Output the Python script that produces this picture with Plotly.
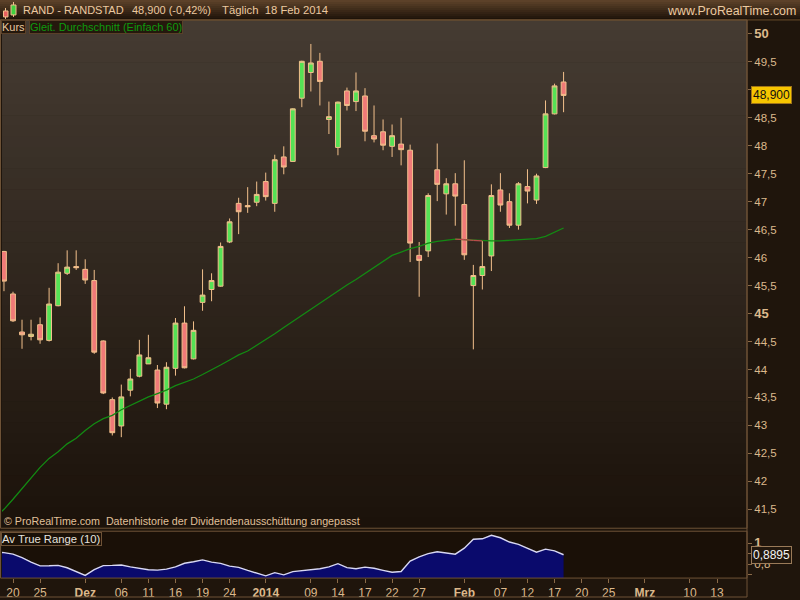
import plotly.graph_objects as go
import pandas as pd

# ---------------- data ----------------
dates = [
    "2013-11-19", "2013-11-20", "2013-11-21", "2013-11-22", "2013-11-25", "2013-11-26", "2013-11-27",
    "2013-11-28", "2013-11-29", "2013-12-02", "2013-12-03", "2013-12-04", "2013-12-05", "2013-12-06",
    "2013-12-09", "2013-12-10", "2013-12-11", "2013-12-12", "2013-12-13", "2013-12-16", "2013-12-17",
    "2013-12-18", "2013-12-19", "2013-12-20", "2013-12-23", "2013-12-24", "2013-12-27", "2013-12-30",
    "2013-12-31", "2014-01-02", "2014-01-03", "2014-01-06", "2014-01-07", "2014-01-08", "2014-01-09",
    "2014-01-10", "2014-01-13", "2014-01-14", "2014-01-15", "2014-01-16", "2014-01-17", "2014-01-20",
    "2014-01-21", "2014-01-22", "2014-01-23", "2014-01-24", "2014-01-27", "2014-01-28", "2014-01-29",
    "2014-01-30", "2014-01-31", "2014-02-03", "2014-02-04", "2014-02-05", "2014-02-06", "2014-02-07",
    "2014-02-10", "2014-02-11", "2014-02-12", "2014-02-13", "2014-02-14", "2014-02-17", "2014-02-18",
]
open_ = [46.11, 45.35, 44.67, 44.59, 44.80, 44.52, 45.14, 45.72, 45.84, 45.79, 45.59, 44.51, 43.46, 42.99,
         43.63, 43.88, 44.10, 43.99, 43.38, 44.02, 44.83, 44.19, 45.20, 45.43, 45.49, 46.28, 46.97, 46.93,
         46.99, 47.36, 46.97, 47.80, 47.72, 48.85, 49.31, 49.51, 48.47, 47.97, 48.98, 48.79, 48.89, 48.18,
         48.25, 47.99, 48.03, 47.92, 46.04, 46.12, 47.57, 47.14, 47.32, 46.95, 45.50, 45.68, 46.03, 47.21,
         47.00, 46.58, 47.27, 47.03, 47.61, 48.57, 49.14]
high = [46.12, 45.39, 44.89, 44.89, 44.93, 45.46, 45.90, 46.13, 46.13, 45.97, 45.78, 44.52, 43.50, 43.73,
        44.01, 44.53, 44.62, 44.08, 44.13, 44.92, 45.13, 44.86, 45.79, 45.72, 46.27, 46.70, 47.07, 47.26,
        47.36, 47.52, 47.84, 47.99, 48.67, 49.52, 49.82, 49.66, 48.79, 48.79, 49.04, 49.31, 49.03, 48.72,
        48.47, 48.38, 48.50, 48.02, 46.28, 47.15, 48.04, 47.42, 47.51, 47.74, 45.87, 46.31, 47.31, 47.51,
        47.15, 47.35, 47.58, 47.50, 48.81, 49.11, 49.32]
low = [45.40, 44.85, 44.37, 44.52, 44.46, 44.50, 45.13, 45.69, 45.78, 45.53, 44.28, 43.56, 42.82, 42.79,
       43.52, 43.86, 44.10, 43.31, 43.29, 43.89, 44.02, 44.18, 45.05, 45.22, 45.48, 46.26, 46.42, 46.80,
       46.92, 47.02, 46.82, 47.49, 47.71, 48.69, 48.97, 48.72, 48.21, 47.83, 48.63, 48.62, 48.08, 48.06,
       47.92, 47.80, 47.65, 45.92, 45.30, 46.01, 47.01, 46.77, 46.57, 45.96, 44.36, 45.43, 45.76, 46.82,
       46.53, 46.50, 46.97, 46.96, 47.60, 48.56, 48.60]
close = [45.58, 44.87, 44.62, 44.63, 44.53, 45.17, 45.74, 45.83, 45.82, 45.60, 44.31, 43.58, 42.87, 43.51,
         43.83, 44.26, 44.21, 43.40, 44.04, 44.83, 44.03, 44.70, 45.33, 45.59, 46.20, 46.64, 46.82, 46.91,
         47.13, 47.09, 47.75, 47.62, 48.66, 49.51, 49.48, 49.15, 48.52, 48.78, 48.72, 48.98, 48.26, 48.12,
         48.01, 48.18, 47.93, 46.26, 45.95, 47.11, 47.31, 47.32, 47.10, 46.05, 45.68, 45.84, 47.11, 46.94,
         46.58, 47.32, 47.19, 47.46, 48.57, 49.07, 48.90]

# indicator series (start one session earlier, 2013-11-18)
ind_dates = ["2013-11-18"] + dates
ma60 = [41.35, 41.50, 41.68, 41.87, 42.07, 42.25, 42.41, 42.53, 42.67, 42.77, 42.91, 43.03, 43.12, 43.18,
        43.28, 43.36, 43.44, 43.51, 43.57, 43.63, 43.71, 43.77, 43.83, 43.91, 43.99, 44.08, 44.17, 44.26,
        44.33, 44.43, 44.54, 44.64, 44.75, 44.86, 44.97, 45.08, 45.19, 45.30, 45.40, 45.51, 45.61, 45.72,
        45.83, 45.93, 46.04, 46.10, 46.16, 46.20, 46.26, 46.29, 46.31, 46.33, 46.32, 46.31, 46.30, 46.30,
        46.30, 46.31, 46.31, 46.32, 46.34, 46.38, 46.45, 46.53]
atr10 = [0.915, 0.910, 0.895, 0.862, 0.819, 0.783, 0.784, 0.788, 0.765, 0.730, 0.692, 0.748, 0.786, 0.788,
         0.792, 0.774, 0.759, 0.746, 0.743, 0.752, 0.773, 0.808, 0.823, 0.840, 0.819, 0.807, 0.781, 0.769,
         0.740, 0.714, 0.688, 0.718, 0.697, 0.728, 0.738, 0.745, 0.756, 0.774, 0.804, 0.766, 0.756, 0.771,
         0.760, 0.740, 0.722, 0.729, 0.829, 0.870, 0.900, 0.918, 0.903, 0.895, 0.952, 1.038, 1.042, 1.076,
         1.052, 1.011, 0.988, 0.952, 0.914, 0.943, 0.927, 0.8895]

tick_dates = ["2013-11-20", "2013-11-25", "2013-12-02", "2013-12-06", "2013-12-11", "2013-12-16",
              "2013-12-19", "2013-12-24", "2014-01-02", "2014-01-09", "2014-01-14", "2014-01-17",
              "2014-01-22", "2014-01-27", "2014-02-03", "2014-02-07", "2014-02-12", "2014-02-17",
              "2014-02-20", "2014-02-25", "2014-03-03", "2014-03-10", "2014-03-13"]
tick_labels = ["20", "25", "<b>Dez</b>", "06", "11", "16", "19", "24", "<b>2014</b>", "09", "14", "17",
               "22", "27", "<b>Feb</b>", "07", "12", "17", "20", "25", "<b>Mrz</b>", "10", "13"]
price_ticks = [41.5, 42, 42.5, 43, 43.5, 44, 44.5, 45, 45.5, 46, 46.5, 47, 47.5, 48, 48.5, 49, 49.5, 50]
price_tick_labels = ["41,5", "42", "42,5", "43", "43,5", "44", "44,5", "45", "45,5", "46", "46,5",
                     "47", "47,5", "48", "48,5", "49", "49,5", "50"]
price_tick_bold = ["45", "50"]
atr_ticks = [0.7, 0.8, 0.9, 1.0]
atr_tick_labels = ["", "0,8", "", "1"]

# ---------------- trading-session positions ----------------
holidays = {"2013-12-25", "2013-12-26", "2014-01-01"}
cal = [d.strftime("%Y-%m-%d") for d in pd.bdate_range("2013-11-18", "2014-03-14")]
cal = [d for d in cal if d not in holidays]
pos = {d: i for i, d in enumerate(cal)}
xc = [pos[d] for d in dates]
xi = [pos[d] for d in ind_dates]
xt = [pos[d] for d in tick_dates]

W, H = 800, 600
FONT = "Liberation Sans, Arial, sans-serif"
TAN = "#dcb98c"
BORDER = "#6e5236"

def px(x):
    return x / W

def py(y):
    return 1 - y / H

def big(s):
    return "<b><span style='font-size:13px'>%s</span></b>" % s

ytext = [big(t) if t in price_tick_bold else t for t in price_tick_labels]
atext = [big(t) if t == "1" else t for t in atr_tick_labels]

# falling parts of the moving average are drawn red
fall_x, fall_y = [], []
for i in range(len(ma60) - 1):
    if ma60[i + 1] < ma60[i]:
        fall_x += [xi[i], xi[i + 1], None]
        fall_y += [ma60[i], ma60[i + 1], None]

fig = go.Figure()

fig.add_trace(go.Scatter(x=xi, y=ma60, mode="lines", line=dict(color="#138a13", width=1.3),
                         hoverinfo="skip", xaxis="x", yaxis="y", showlegend=False))
fig.add_trace(go.Scatter(x=fall_x, y=fall_y, mode="lines", line=dict(color="#b84a4a", width=1.3),
                         hoverinfo="skip", xaxis="x", yaxis="y", showlegend=False))
fig.add_trace(go.Candlestick(
    x=xc, open=open_, high=high, low=low, close=close,
    increasing=dict(line=dict(color="#f2c08c", width=1), fillcolor="#55e255"),
    decreasing=dict(line=dict(color="#f2c08c", width=1), fillcolor="#f07a78"),
    whiskerwidth=0, xaxis="x", yaxis="y", showlegend=False))
fig.add_trace(go.Scatter(x=xi, y=atr10, mode="lines", line=dict(color="#d8d8f4", width=1.4),
                         fill="tozeroy", fillcolor="#0a0a6c", hoverinfo="skip",
                         xaxis="x2", yaxis="y2", showlegend=False))

# axis geometry (pixels)
x_left, x_right = 2, 747
main_top, main_bot = 20, 530
atr_top, atr_bot = 533, 580
spp = 9.026                      # pixels per session; 20 Nov (index 2) at x=13
x0 = 2 + (x_left - 13) / spp
x1 = 2 + (x_right - 13) / spp
ppu = 56.12                      # pixels per price unit; 50 at y=34
y_hi = 50 + (34 - main_top) / ppu
y_lo = 50 - (main_bot - 34) / ppu
apu = 105.0                      # pixels per ATR unit; 1 at y=545
a_hi = 1 + (545 - atr_top) / apu
a_lo = 1 - (atr_bot - 545) / apu

axis_common = dict(showgrid=False, zeroline=False, showline=False)
fig.update_layout(
    width=W, height=H, margin=dict(l=0, r=0, t=0, b=0),
    paper_bgcolor="#1f150c", plot_bgcolor="rgba(0,0,0,0)",
    boxgap=0.24, showlegend=False, separators=",.",
    font=dict(family=FONT, color=TAN, size=11),
    xaxis=dict(domain=[px(x_left), px(x_right)], range=[x0, x1], anchor="y", showticklabels=False,
               ticks="", rangeslider=dict(visible=False), **axis_common),
    xaxis2=dict(domain=[px(x_left), px(x_right)], range=[x0, x1], anchor="y2", matches="x",
                tickmode="array", tickvals=xt, ticktext=tick_labels, ticks="outside", ticklen=4,
                tickcolor="#8a6a48", tickfont=dict(family=FONT, size=12, color=TAN), **axis_common),
    yaxis=dict(domain=[py(main_bot), py(main_top)], range=[y_lo, y_hi], side="right", anchor="x",
               tickmode="array", tickvals=price_ticks, ticktext=ytext, ticks="outside",
               ticklen=4, tickcolor="#8a6a48", tickfont=dict(family=FONT, size=11.5, color=TAN),
               **axis_common),
    yaxis2=dict(domain=[py(atr_bot), py(atr_top)], range=[a_lo, a_hi], side="right", anchor="x2",
                tickmode="array", tickvals=atr_ticks, ticktext=atext, ticks="outside",
                ticklen=4, tickcolor="#8a6a48", tickfont=dict(family=FONT, size=11.5, color=TAN),
                **axis_common),
)

shapes = []
top_c, bot_c = (0x5c, 0x41, 0x29), (0x1e, 0x13, 0x09)
n = 10
for i in range(n):
    t = i / (n - 1)
    c = tuple(round(top_c[k] + (bot_c[k] - top_c[k]) * t) for k in range(3))
    y0 = 20 * i / n
    y1 = 20 * (i + 1) / n
    shapes.append(dict(type="rect", xref="paper", yref="paper", x0=0, x1=1, y0=py(y1), y1=py(y0),
                       fillcolor="rgb(%d,%d,%d)" % c, line=dict(width=0), layer="below"))
top_c, bot_c = (0x45, 0x3b, 0x32), (0x1b, 0x12, 0x0a)
n = 48
for i in range(n):
    t = i / (n - 1)
    c = tuple(round(top_c[k] + (bot_c[k] - top_c[k]) * t) for k in range(3))
    y0 = main_top + (main_bot - main_top) * i / n
    y1 = main_top + (main_bot - main_top) * (i + 1) / n + 0.5
    shapes.append(dict(type="rect", xref="paper", yref="paper", x0=px(x_left), x1=px(x_right),
                       y0=py(y1), y1=py(y0), fillcolor="rgb(%d,%d,%d)" % c, line=dict(width=0),
                       layer="below"))
shapes.append(dict(type="rect", xref="paper", yref="paper", x0=px(x_left), x1=px(x_right),
                   y0=py(atr_bot), y1=py(atr_top), fillcolor="#1a1007", line=dict(width=0), layer="below"))
shapes.append(dict(type="line", xref="paper", yref="paper", x0=0, x1=1, y0=py(20), y1=py(20),
                   line=dict(color="#6b4c2c", width=1)))
shapes.append(dict(type="rect", xref="paper", yref="paper", x0=px(0.5), x1=px(x_right),
                   y0=py(main_bot), y1=py(main_top), line=dict(color=BORDER, width=1)))
shapes.append(dict(type="rect", xref="paper", yref="paper", x0=px(0.5), x1=px(x_right),
                   y0=py(atr_bot), y1=py(atr_top), line=dict(color=BORDER, width=1)))
shapes.append(dict(type="line", xref="paper", yref="paper", x0=px(x_right), x1=px(x_right),
                   y0=py(599), y1=py(main_top), line=dict(color=BORDER, width=1)))
shapes.append(dict(type="line", xref="paper", yref="paper", x0=0, x1=px(x_right),
                   y0=py(599), y1=py(599), line=dict(color=BORDER, width=1)))
shapes += [
    dict(type="line", xref="paper", yref="paper", x0=px(5.5), x1=px(5.5), y0=py(19), y1=py(8),
         line=dict(color="#f2c08c", width=1)),
    dict(type="rect", xref="paper", yref="paper", x0=px(3.5), x1=px(8), y0=py(17), y1=py(11),
         fillcolor="#e86060", line=dict(color="#f2c08c", width=1)),
    dict(type="line", xref="paper", yref="paper", x0=px(13.5), x1=px(13.5), y0=py(17), y1=py(2),
         line=dict(color="#f2c08c", width=1)),
    dict(type="rect", xref="paper", yref="paper", x0=px(11), x1=px(16), y0=py(15), y1=py(5),
         fillcolor="#40d040", line=dict(color="#f2c08c", width=1)),
]
fig.update_layout(shapes=shapes)

ann = []

def text(x, y, s, size=12, color=TAN, xanchor="left", **kw):
    ann.append(dict(x=px(x), y=py(y), xref="paper", yref="paper", text=s,
                    showarrow=False, xanchor=xanchor, yanchor="middle",
                    font=dict(family=FONT, size=size, color=color), **kw))

HDR = "#ecc9a0"
text(21, 10, "RAND - RANDSTAD", size=11, color=HDR)
text(130, 10, "48,900 (-0,42%)", size=11, color=HDR)
text(220, 10, "Täglich&nbsp;&nbsp;18 Feb 2014", size=11.3, color=HDR)
text(798, 11, "www.ProRealTime.com", size=12.4, color=HDR, xanchor="right")
text(1, 27, "Kurs", size=11, color="#e8c8a0", bgcolor="#24180d", bordercolor="#5a4028",
     borderwidth=1, borderpad=0)
text(29, 27, "Gleit. Durchschnitt (Einfach 60)", size=11, color="#0e9a0e", bgcolor="#24180d",
     bordercolor="#5a4028", borderwidth=1, borderpad=0)
text(2, 523, "© ProRealTime.com  Datenhistorie der Dividendenausschüttung angepasst", size=10.7,
     color="#e0c09a")
text(1, 541, "Av True Range (10)", size=11.3, color="#e6e2de", bgcolor="#1a1007", bordercolor="#6e5236",
     borderwidth=1, borderpad=0)
ann.append(dict(x=px(751), y=close[-1], xref="paper", yref="y", text="48,900", showarrow=False,
                xanchor="left", yanchor="middle", bgcolor="#f6c500", bordercolor="#a07418", borderwidth=1,
                borderpad=1, font=dict(family=FONT, size=12, color="#111111")))
ann.append(dict(x=px(751), y=atr10[-1], xref="paper", yref="y2", text="0,8895", showarrow=False,
                xanchor="left", yanchor="middle", bgcolor="#22170d", bordercolor="#9a7a58", borderwidth=1,
                borderpad=1, font=dict(family=FONT, size=12, color="#f4f4f4")))
fig.update_layout(annotations=ann)

fig.write_html("out.html", config={"displayModeBar": False},
               post_script="document.body.style.margin='0px';document.body.style.overflow='hidden';")
